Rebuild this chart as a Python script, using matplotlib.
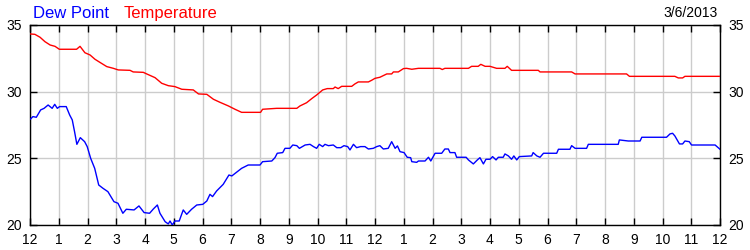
import matplotlib
matplotlib.use("Agg")
import matplotlib.pyplot as plt

plt.rcParams['font.family'] = ['Liberation Sans', 'DejaVu Sans']

# --- Data (hours after midnight, degrees) ---
temp_hours = [0.0, 0.17, 0.35, 0.52, 0.70, 0.87, 1.02, 1.62, 1.74, 1.91, 2.09, 2.26,
              2.43, 2.67, 2.90, 3.07, 3.48, 3.59, 3.94, 4.06, 4.35, 4.58, 4.81, 5.04,
              5.28, 5.68, 5.86, 6.15, 6.38, 6.61, 6.90, 7.13, 7.36, 8.02, 8.09, 8.58,
              9.28, 9.39, 9.62, 9.80, 9.97, 10.18, 10.34, 10.55, 10.61, 10.72, 10.84,
              11.19, 11.30, 11.42, 11.77, 11.88, 12.0, 12.17, 12.41, 12.58, 12.64,
              12.81, 12.99, 13.10, 13.28, 13.51, 14.26, 14.34, 14.43, 15.25, 15.36,
              15.59, 15.68, 15.83, 16.0, 16.23, 16.52, 16.60, 16.75, 17.68, 17.74,
              18.84, 18.96, 20.75, 20.85, 22.43, 22.55, 22.70, 22.78, 24.0]
temp_values = [34.33, 34.3, 34.08, 33.75, 33.5, 33.4, 33.18, 33.18, 33.4, 32.92, 32.75, 32.43,
               32.2, 31.88, 31.75, 31.63, 31.6, 31.48, 31.45, 31.33, 31.05, 30.63, 30.45, 30.38,
               30.18, 30.13, 29.83, 29.8, 29.43, 29.2, 28.93, 28.68, 28.45, 28.45, 28.68, 28.75,
               28.75, 28.93, 29.17, 29.48, 29.75, 30.13, 30.23, 30.23, 30.35, 30.23, 30.4,
               30.4, 30.58, 30.73, 30.73, 30.85, 31.0, 31.08, 31.33, 31.33, 31.48,
               31.48, 31.73, 31.75, 31.68, 31.75, 31.75, 31.66, 31.75, 31.75, 31.9,
               31.9, 32.05, 31.9, 31.9, 31.75, 31.75, 31.9, 31.6, 31.6, 31.48,
               31.48, 31.33, 31.33, 31.15, 31.15, 31.03, 31.03, 31.15, 31.15]

dew_hours = [0.02, 0.10, 0.22, 0.37, 0.49, 0.63, 0.77, 0.86, 0.95, 1.03, 1.26, 1.38, 1.47,
             1.55, 1.63, 1.75, 1.90, 1.99, 2.11, 2.25, 2.39, 2.54, 2.71, 2.92, 3.06, 3.23,
             3.35, 3.62, 3.79, 3.97, 4.16, 4.29, 4.43, 4.52, 4.70, 4.81, 4.87, 4.95, 5.04,
             5.19, 5.33, 5.45, 5.62, 5.80, 6.01, 6.15, 6.26, 6.35, 6.49, 6.72, 6.92, 7.02,
             7.17, 7.36, 7.59, 8.0, 8.09, 8.41, 8.52, 8.60, 8.79, 8.87, 9.04, 9.14, 9.28,
             9.37, 9.57, 9.74, 9.86, 9.97, 10.06, 10.18, 10.26, 10.38, 10.55, 10.67, 10.81,
             10.92, 11.05, 11.13, 11.25, 11.36, 11.50, 11.65, 11.77, 11.94, 12.06, 12.17,
             12.29, 12.46, 12.58, 12.70, 12.78, 12.87, 13.01, 13.12, 13.24, 13.28, 13.45,
             13.51, 13.74, 13.86, 13.94, 14.09, 14.32, 14.43, 14.55, 14.61, 14.78, 14.84,
             15.17, 15.25, 15.42, 15.56, 15.65, 15.77, 15.86, 16.0, 16.09, 16.21, 16.29,
             16.46, 16.52, 16.64, 16.75, 16.83, 16.93, 17.02, 17.45, 17.50, 17.63, 17.74,
             17.86, 18.32, 18.38, 18.78, 18.84, 18.96, 19.36, 19.42, 20.46, 20.50, 20.81,
             21.22, 21.28, 22.14, 22.26, 22.35, 22.43, 22.59, 22.70, 22.78, 22.93, 23.01,
             23.83, 24.0]
dew_values = [27.95, 28.13, 28.08, 28.63, 28.75, 29.0, 28.75, 29.05, 28.75, 28.88, 28.88, 28.25, 27.88,
              27.0, 26.05, 26.55, 26.25, 25.88, 25.0, 24.25, 23.0, 22.75, 22.5, 21.75, 21.63, 20.88,
              21.18, 21.13, 21.43, 20.93, 20.88, 21.2, 21.5, 20.88, 20.25, 20.08, 20.3, 20.0, 20.3,
              20.3, 21.13, 20.8, 21.18, 21.5, 21.55, 21.8, 22.3, 22.13, 22.55, 23.05, 23.75, 23.68,
              23.93, 24.25, 24.5, 24.5, 24.75, 24.8, 25.05, 25.38, 25.43, 25.75, 25.75, 26.0, 25.95,
              25.75, 26.0, 26.05, 25.88, 25.75, 26.05, 25.88, 26.05, 25.95, 26.0, 25.8, 25.8,
              25.95, 25.88, 25.63, 26.05, 25.8, 25.88, 25.88, 25.7, 25.75, 25.88, 25.95,
              25.7, 25.75, 26.25, 25.75, 25.93, 25.5, 25.43, 25.08, 25.05, 24.75, 24.7,
              24.8, 24.8, 25.08, 24.8, 25.38, 25.38, 25.7, 25.7, 25.43, 25.43, 25.08,
              25.08, 24.88, 24.58, 24.88, 25.05, 24.58, 24.93, 24.93, 25.13, 24.88, 25.08,
              25.08, 25.33, 25.18, 24.93, 25.18, 24.88, 25.13, 25.18, 25.43, 25.18, 25.08,
              25.38, 25.38, 25.68, 25.68, 25.95, 25.75, 25.75, 26.05, 26.05, 26.38, 26.3,
              26.3, 26.58, 26.58, 26.83, 26.88, 26.68, 26.08, 26.08, 26.3, 26.25, 26.0,
              26.0, 25.68]

tick_hours = list(range(25))
tick_labels = ['12'] + [str(h) for h in range(1, 12)] + ['12'] + [str(h) for h in range(1, 12)] + ['12']
y_ticks = [20, 25, 30, 35]
date_label = '3/6/2013'

# --- Figure ---
fig = plt.figure(figsize=(7.5, 2.5), dpi=100)
ax = fig.add_axes([0.04, 0.10, 0.92, 0.80])

ax.plot(temp_hours, temp_values, color='#ff0000', linewidth=1.0, zorder=3)
ax.plot(dew_hours, dew_values, color='#0000ff', linewidth=1.0, zorder=3)

ax.set_xlim(0, 24)
ax.set_ylim(20, 35)
ax.set_xticks(tick_hours)
ax.set_xticklabels(tick_labels)
ax.set_yticks(y_ticks)
ax.grid(True, color='#cccccc', linewidth=1.0, zorder=0)
ax.set_axisbelow(True)
ax.tick_params(axis='both', direction='in', length=5, width=1, labelsize=10,
               top=True, right=True, labelright=True, pad=6)
for s in ax.spines.values():
    s.set_linewidth(1.0)
    s.set_color('black')

fig.text(33 / 750, 1 - 18 / 250, 'Dew Point', color='#0000ff', fontsize=12,
         ha='left', va='baseline')
fig.text(124 / 750, 1 - 18 / 250, 'Temperature', color='#ff0000', fontsize=12,
         ha='left', va='baseline')
fig.text(718 / 750, 1 - 17 / 250, date_label, color='black', fontsize=10,
         ha='right', va='baseline')

plt.savefig('out.png', dpi=100)
plt.close()
